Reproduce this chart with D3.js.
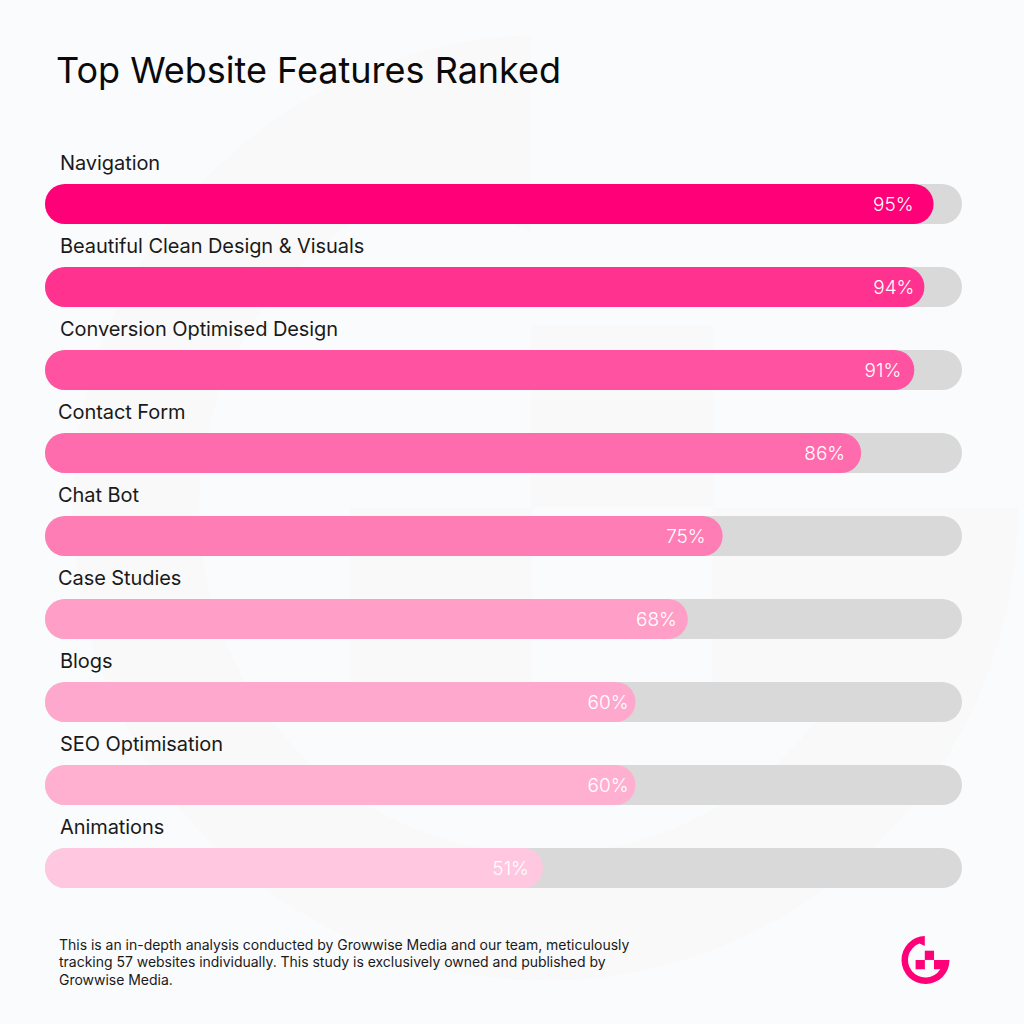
<!DOCTYPE html>
<html>
<head>
<meta charset="utf-8">
<script src="https://cdn.jsdelivr.net/npm/d3@7"></script>
<style>
  html, body { margin: 0; padding: 0; background: #fafbfd; }
  svg { display: block; font-family: Inter, sans-serif; }
</style>
</head>
<body>
<svg id="chart"></svg>
<script>
const titleText = 'Top Website Features Ranked'
const features = [
  'Navigation',
  'Beautiful Clean Design & Visuals',
  'Conversion Optimised Design',
  'Contact Form',
  'Chat Bot',
  'Case Studies',
  'Blogs',
  'SEO Optimisation',
  'Animations'
]
// printed percentages
const printed = [95, 94, 91, 86, 75, 68, 60, 60, 51]
// the bars are not drawn to their printed value, so this is the fill read off the track
const filled = [96.9, 95.9, 94.8, 89, 73.9, 70.1, 64.4, 64.4, 54.3]
const footnote = [
  'This is an in-depth analysis conducted by Growwise Media and our team, meticulously',
  'tracking 57 websites individually. This study is exclusively owned and published by',
  'Growwise Media.'
]

const colors = ['#ff0078', '#ff338f', '#ff52a0', '#ff6cad', '#ff7db5', '#ff9fc7', '#ffa8cd', '#ffb0d1', '#ffc7e0']
const valueInset = [20, 10, 13, 16, 17, 11, 7, 7, 14]
const nameIndent = [15, 15, 15, 13, 13, 13, 15, 15, 15]

const size = 1024
const barHeight = 40

const svg = d3.select('#chart')
  .attr('width', size)
  .attr('height', size)

svg.append('rect')
  .attr('width', size)
  .attr('height', size)
  .attr('fill', '#fafbfd')

// G mark, drawn on a circle of radius 24 around 0,0
const arcOuter = 24
const arcInner = 17.5
const markPath = [
  'M-0.7,-24 L-0.7,-14 L-6,-16.4',
  `A${arcInner},${arcInner} 0 1 0 14.8,9.3`,
  'L8.5,9.3 L8.5,0 L24,0',
  `A${arcOuter},${arcOuter} 0 1 1 -0.7,-24 Z`
].join(' ')
const markSquares = [[-0.7, -9.3], [-9.9, 0]]

function drawMark (cx, cy, scale, fill) {
  const g = svg.append('g')
    .attr('transform', `translate(${cx},${cy}) scale(${scale})`)
    .attr('fill', fill)
  g.append('path').attr('d', markPath)
  g.selectAll('rect')
    .data(markSquares)
    .join('rect')
    .attr('x', d => d[0])
    .attr('y', d => d[1])
    .attr('width', 9.25)
    .attr('height', 9.25)
}

drawMark(545, 508, 19.7, '#f9f9f9')
drawMark(925.5, 960, 1, '#ff0078')

const x = d3.scaleLinear().domain([0, 100]).range([45, 962])
const y = d3.scalePoint().domain(features).range([184, 848])

svg.append('text')
  .attr('x', 56)
  .attr('y', 83)
  .attr('font-size', 36)
  .attr('fill', '#0a0a0a')
  .text(titleText)

const rows = svg.selectAll('g.row')
  .data(features)
  .join('g')
  .attr('class', 'row')

rows.append('rect')
  .attr('x', x(0))
  .attr('y', d => y(d))
  .attr('width', x(100) - x(0))
  .attr('height', barHeight)
  .attr('rx', barHeight / 2)
  .attr('fill', '#d9d9d9')

rows.append('rect')
  .attr('x', x(0))
  .attr('y', d => y(d))
  .attr('width', (d, i) => x(filled[i]) - x(0))
  .attr('height', barHeight)
  .attr('rx', barHeight / 2)
  .attr('fill', (d, i) => colors[i])

rows.append('text')
  .attr('x', (d, i) => x(0) + nameIndent[i])
  .attr('y', d => y(d) - 14.4)
  .attr('font-size', 20)
  .attr('letter-spacing', -0.07)
  .attr('fill', '#1a1a1a')
  .text(d => d)

rows.append('text')
  .attr('x', (d, i) => x(filled[i]) - valueInset[i])
  .attr('y', d => y(d) + 27)
  .attr('text-anchor', 'end')
  .attr('font-size', 19)
  .attr('font-weight', 300)
  .attr('fill', '#ffffff')
  .text((d, i) => printed[i] + '%')

svg.selectAll('text.note')
  .data(footnote)
  .join('text')
  .attr('class', 'note')
  .attr('x', 59)
  .attr('y', (d, i) => 950 + i * 17.3)
  .attr('font-size', 14)
  .attr('letter-spacing', -0.02)
  .attr('fill', '#1a1a1a')
  .text(d => d)
</script>
</body>
</html>
